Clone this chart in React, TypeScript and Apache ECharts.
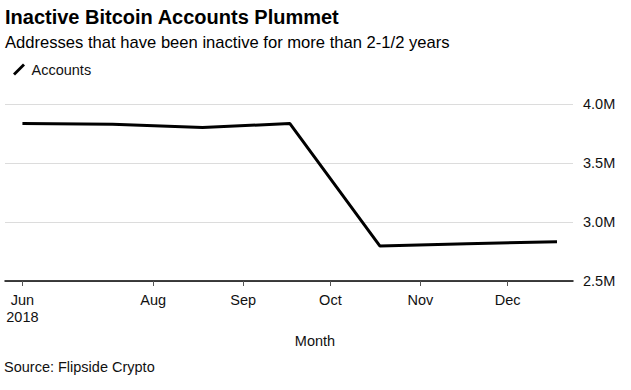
import React, { useEffect, useRef } from "react";
import * as echarts from "echarts";

const months = ["2018-07-01", "2018-08-01", "2018-09-01", "2018-10-01", "2018-11-01", "2018-12-01", "2019-01-01"];
const accounts = [3835000, 3828000, 3800000, 3835000, 2797000, 2815000, 2833000];
const tickDates = ["2018-07-01", "2018-08-15", "2018-09-15", "2018-10-15", "2018-11-15", "2018-12-15"];
const tickLabels = ["Jun\n2018", "Aug", "Sep", "Oct", "Nov", "Dec"];
const yTicks = [2500000, 3000000, 3500000, 4000000];

const FONT = "'Liberation Sans', Arial, Helvetica, sans-serif";
const DAY = 86400000;

function ts(d: string): number {
  const [y, m, dd] = d.split("-").map(Number);
  return Date.UTC(y, m - 1, dd);
}

export default function App() {
  const ref = useRef<HTMLDivElement>(null);
  useEffect(() => {
    if (!ref.current) return;
    const chart = echarts.init(ref.current, null, { renderer: "svg" });
    const tickTs = tickDates.map(ts);
    const data = months.map((m, i) => [ts(m), accounts[i]]);
    chart.setOption({
      animation: false,
      backgroundColor: "#fff",
      textStyle: { fontFamily: FONT },
      graphic: [
        {
          type: "text",
          x: 5,
          y: 17,
          style: { text: "Inactive Bitcoin Accounts Plummet", font: `bold 20px ${FONT}`, fill: "#000", textVerticalAlign: "middle" },
        },
        {
          type: "text",
          x: 5,
          y: 42,
          style: { text: "Addresses that have been inactive for more than 2-1/2 years", font: `16.6px ${FONT}`, fill: "#000", textVerticalAlign: "middle" },
        },
        {
          type: "text",
          x: 315,
          y: 340.5,
          style: { text: "Month", font: `14.5px ${FONT}`, fill: "#111", textAlign: "center", textVerticalAlign: "middle" },
        },
        {
          type: "text",
          x: 4,
          y: 366.5,
          style: { text: "Source: Flipside Crypto", font: `14.5px ${FONT}`, fill: "#111", textVerticalAlign: "middle" },
        },
      ],
      legend: {
        left: 13,
        top: 62,
        padding: 0,
        itemWidth: 13,
        itemHeight: 12,
        itemGap: 10,
        data: [{ name: "Accounts", icon: "path://M0,10 L10,0 L12,2 L2,12 Z" }],
        textStyle: { fontSize: 14.5, color: "#111", fontFamily: FONT, padding: [0, 0, 0, 1] },
      },
      grid: { left: 5, right: 58, top: 104, bottom: 109, containLabel: false },
      xAxis: {
        type: "value",
        min: ts(months[0]) - 6 * DAY,
        max: ts(months[months.length - 1]) + 5.5 * DAY,
        axisLine: { show: true, lineStyle: { color: "#000", width: 1.5 } },
        axisTick: { show: true, length: 5, customValues: tickTs, lineStyle: { color: "#555", width: 1 } },
        splitLine: { show: false },
        axisLabel: {
          customValues: tickTs,
          margin: 10,
          fontSize: 14.5,
          lineHeight: 17,
          color: "#111",
          fontFamily: FONT,
          formatter: (v: number) => {
            let best = 0;
            let bd = Infinity;
            tickTs.forEach((t, i) => {
              const d = Math.abs(t - v);
              if (d < bd) { bd = d; best = i; }
            });
            return tickLabels[best];
          },
        },
      },
      yAxis: {
        type: "value",
        position: "right",
        min: yTicks[0],
        max: yTicks[yTicks.length - 1],
        interval: 500000,
        axisLine: { show: false },
        axisTick: { show: false },
        splitLine: { show: true, lineStyle: { color: "#dcdcdc", width: 1 } },
        axisLabel: {
          margin: 10,
          fontSize: 14.5,
          color: "#111",
          fontFamily: FONT,
          formatter: (v: number) => (v / 1000000).toFixed(1) + "M",
        },
      },
      series: [
        {
          name: "Accounts",
          type: "line",
          data,
          showSymbol: false,
          symbol: "none",
          color: "#000",
          lineStyle: { color: "#000", width: 3 },
        },
      ],
    });
    return () => chart.dispose();
  }, []);
  return <div ref={ref} style={{ position: "absolute", left: 0, top: 0, width: 631, height: 390 }} />;
}
